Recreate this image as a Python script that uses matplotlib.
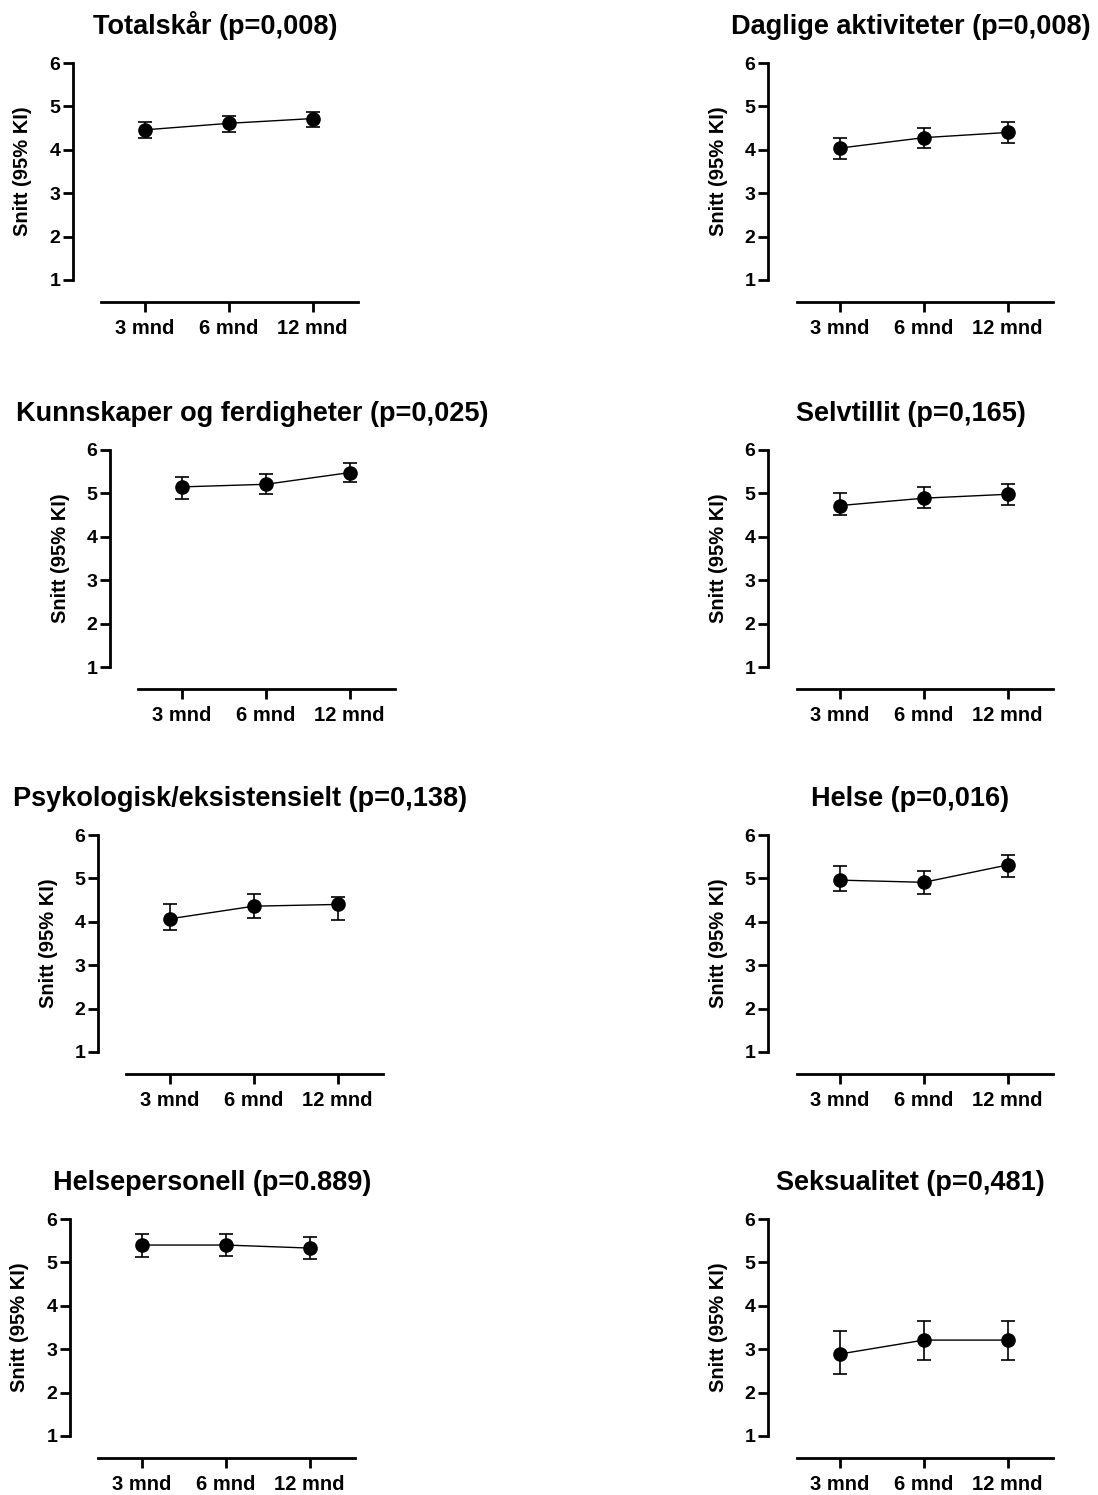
import numpy as np
import matplotlib.pyplot as plt

plt.rcParams['font.family'] = ['Liberation Sans', 'DejaVu Sans']
plt.rcParams['font.weight'] = 'bold'

# tidspunkter og paneltitler
tidspunkt = ["3 mnd", "6 mnd", "12 mnd"]
titler = [
    "Totalskår (p=0,008)",
    "Daglige aktiviteter (p=0,008)",
    "Kunnskaper og ferdigheter (p=0,025)",
    "Selvtillit (p=0,165)",
    "Psykologisk/eksistensielt (p=0,138)",
    "Helse (p=0,016)",
    "Helsepersonell (p=0.889)",
    "Seksualitet (p=0,481)",
]

# snitt og 95% KI
snitt = [
    [4.46, 4.61, 4.72],
    [4.04, 4.28, 4.40],
    [5.15, 5.21, 5.48],
    [4.72, 4.89, 4.98],
    [4.07, 4.36, 4.40],
    [4.96, 4.91, 5.31],
    [5.40, 5.40, 5.33],
    [2.89, 3.21, 3.21],
]
nedre = [
    [4.27, 4.42, 4.52],
    [3.78, 4.03, 4.16],
    [4.87, 4.98, 5.27],
    [4.50, 4.66, 4.74],
    [3.82, 4.09, 4.05],
    [4.72, 4.65, 5.04],
    [5.12, 5.14, 5.08],
    [2.44, 2.76, 2.76],
]
ovre = [
    [4.65, 4.79, 4.88],
    [4.28, 4.51, 4.63],
    [5.37, 5.44, 5.69],
    [5.02, 5.14, 5.21],
    [4.40, 4.64, 4.57],
    [5.29, 5.17, 5.54],
    [5.66, 5.66, 5.58],
    [3.41, 3.65, 3.65],
]

W, H = 1098, 1495
fig = plt.figure(figsize=(W / 100, H / 100), dpi=100)

# plassering av panelene i piksler (y-akse x, topp av akse)
venstre_x = [73, 110, 98, 70]
hoyre_x = 768
topp_y = [63, 450, 835, 1219]
bredde, hoyde = 285, 217

x = np.arange(len(tidspunkt))

for i in range(8):
    rad = i // 2
    ax_x = venstre_x[rad] if i % 2 == 0 else hoyre_x
    ax = fig.add_axes([ax_x / W, 1 - (topp_y[rad] + hoyde) / H, bredde / W, hoyde / H])

    m = np.array(snitt[i])
    lo = np.array(nedre[i])
    hi = np.array(ovre[i])
    ax.errorbar(x, m, yerr=[m - lo, hi - m], fmt='o-', color='black',
                markersize=9.5, lw=1.0, elinewidth=1.2, capsize=4.7, capthick=1.2,
                clip_on=False)

    ax.set_xlim(-0.86, 2.54)
    ax.set_ylim(1, 6)
    ax.set_yticks([1, 2, 3, 4, 5, 6])
    ax.set_xticks(x)
    ax.set_xticklabels(tidspunkt)

    ax.spines['top'].set_visible(False)
    ax.spines['right'].set_visible(False)
    ax.spines['left'].set_linewidth(2.0)
    ax.spines['bottom'].set_linewidth(2.0)
    ax.spines['bottom'].set_position(('outward', 16))
    ax.spines['bottom'].set_bounds(-0.52, 2.54)
    ax.tick_params(axis='y', length=7, width=2.0, pad=2, labelsize=14)
    ax.tick_params(axis='x', length=7, width=2.0, pad=5, labelsize=14.5)

    ax.set_ylabel("Snitt (95% KI)", fontsize=14.5, fontweight='bold', va='center')
    ax.yaxis.set_label_coords(-50 / bredde, 0.5)
    ax.set_title(titler[i], fontsize=19.5, fontweight='bold', pad=21)

plt.savefig("out.png", dpi=100)
